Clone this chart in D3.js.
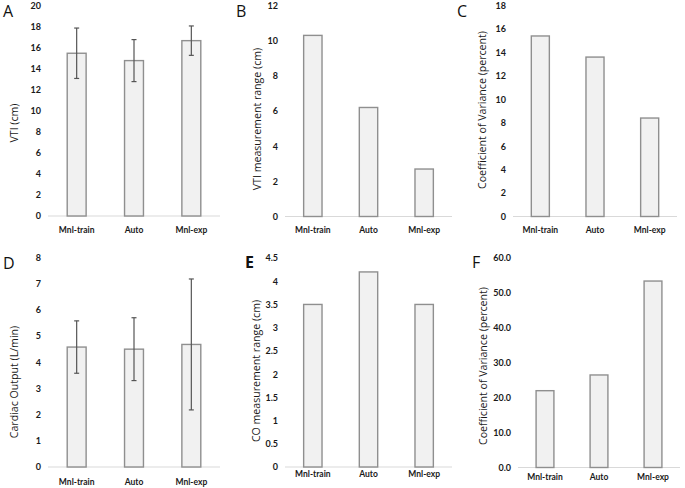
<!DOCTYPE html>
<html><head><meta charset="utf-8">
<script src="https://cdn.jsdelivr.net/npm/d3@7"></script>
<style>
html,body{margin:0;padding:0;background:#fff;}
svg{display:block;}
</style></head>
<body>
<svg id="chart" width="685" height="488"></svg>
<script>
// ---- data ----
const categories = ["Mnl-train", "Auto", "Mnl-exp"];
const vtiMean = [15.5, 14.8, 16.7];
const vtiSD = [2.4, 2.0, 1.4];
const vtiRange = [10.3, 6.2, 2.7];
const vtiCV = [15.4, 13.6, 8.4];
const coMean = [4.58, 4.5, 4.68];
const coSD = [1.0, 1.2, 2.5];
const coRange = [3.5, 4.2, 3.5];
const coCV = [22.0, 26.5, 53.4];
const yTitles = ["VTI (cm)", "VTI measurement range (cm)", "Coefficient of Variance (percent)",
                 "Cardiac Output (L/min)", "CO measurement range (cm)", "Coefficient of Variance (percent)"];
const panelLetters = ["A", "B", "C", "D", "E", "F"];
const yMax = [20, 12, 18, 8, 4.5, 60];
const yStep = [2, 2, 2, 1, 0.5, 10];
const tickFormats = ["d", "d", "d", "d", "", ".1f"];

const values = [vtiMean, vtiRange, vtiCV, coMean, coRange, coCV];
const errors = [vtiSD, null, null, coSD, null, null];

// ---- layout ----
const layout = [
  {x0: 48,  x1: 220, yb: 216, yt: 6,   titleX: 15,  titleY: 123, catY: 233, lx: 3,   ly: 17,  bold: false},
  {x0: 285, x1: 452, yb: 216.5, yt: 5.5, titleX: 258, titleY: 119, catY: 233, lx: 236, ly: 17,  bold: false},
  {x0: 513, x1: 677, yb: 216.5, yt: 5.5, titleX: 483, titleY: 110, catY: 233, lx: 457, ly: 17,  bold: false},
  {x0: 48,  x1: 220, yb: 467, yt: 257.5, titleX: 15,  titleY: 382, catY: 485, lx: 3,   ly: 269, bold: false},
  {x0: 285, x1: 452, yb: 467, yt: 258, titleX: 257, titleY: 371, catY: 477, lx: 245, ly: 268, bold: true},
  {x0: 518, x1: 680, yb: 467.5, yt: 258, titleX: 484, titleY: 366, catY: 480, lx: 472, ly: 268, bold: false}
];

const svg = d3.select("#chart");

layout.forEach((L, i) => {
  const g = svg.append("g");
  const x = d3.scaleBand().domain(categories).range([L.x0, L.x1]).paddingInner(0.67).paddingOuter(0.335);
  const y = d3.scaleLinear().domain([0, yMax[i]]).range([L.yb, L.yt]);
  const ticks = d3.range(0, yMax[i] + yStep[i] / 2, yStep[i]);

  // y axis (labels only)
  const fmt = tickFormats[i] ? d3.format(tickFormats[i]) : (d => String(+d.toFixed(1)));
  const yAxis = d3.axisLeft(y).tickValues(ticks).tickFormat(fmt).tickSize(0).tickPadding(7);
  const ya = g.append("g").attr("transform", `translate(${L.x0},0)`).call(yAxis);
  ya.select(".domain").remove();
  ya.selectAll("text").attr("font-family", "Lato, 'Open Sans', sans-serif").attr("font-weight", "bold")
    .attr("font-size", 9).attr("fill", "#1a1a1a");

  // x axis
  const xAxis = d3.axisBottom(x).tickSize(0).tickPadding(0);
  const xa = g.append("g").attr("transform", `translate(0,${L.yb})`).call(xAxis);
  xa.select(".domain").attr("stroke", "#d9d9d9").attr("stroke-width", 1.2).attr("d", `M${L.x0},0H${L.x1}`);
  xa.selectAll("text").attr("font-family", "Lato, 'Open Sans', sans-serif").attr("font-weight", "bold")
    .attr("font-size", 8.5).attr("fill", "#1a1a1a").attr("dy", null).attr("y", L.catY - L.yb);

  // bars
  g.selectAll("rect.bar").data(values[i]).join("rect").attr("class", "bar")
    .attr("x", (d, j) => x(categories[j]))
    .attr("width", x.bandwidth())
    .attr("y", d => y(d))
    .attr("height", d => y(0) - y(d))
    .attr("fill", "#f1f1f1").attr("stroke", "#8f8f8f").attr("stroke-width", 1.4);

  // error bars
  if (errors[i]) {
    const eg = g.selectAll("g.err").data(values[i]).join("g").attr("class", "err");
    eg.each(function(d, j) {
      const cx = x(categories[j]) + x.bandwidth() / 2;
      const e = errors[i][j];
      const s = d3.select(this);
      s.append("line").attr("x1", cx).attr("x2", cx).attr("y1", y(d - e)).attr("y2", y(d + e))
        .attr("stroke", "#555").attr("stroke-width", 1.2);
      [d - e, d + e].forEach(v => {
        s.append("line").attr("x1", cx - 2.5).attr("x2", cx + 2.5).attr("y1", y(v)).attr("y2", y(v))
          .attr("stroke", "#555").attr("stroke-width", 1.2);
      });
    });
  }

  // y title
  g.append("text").attr("transform", `translate(${L.titleX},${L.titleY}) rotate(-90)`)
    .attr("text-anchor", "middle").attr("dominant-baseline", "middle")
    .attr("font-family", "'Open Sans', sans-serif").attr("font-size", 10.6).attr("fill", "#1a1a1a")
    .text(yTitles[i]);

  // panel letter
  g.append("text").attr("x", L.lx).attr("y", L.ly)
    .attr("font-family", "'Open Sans', sans-serif").attr("font-size", 16)
    .attr("font-weight", L.bold ? "bold" : "normal").attr("fill", "#111")
    .text(panelLetters[i]);
});
</script>
</body></html>
